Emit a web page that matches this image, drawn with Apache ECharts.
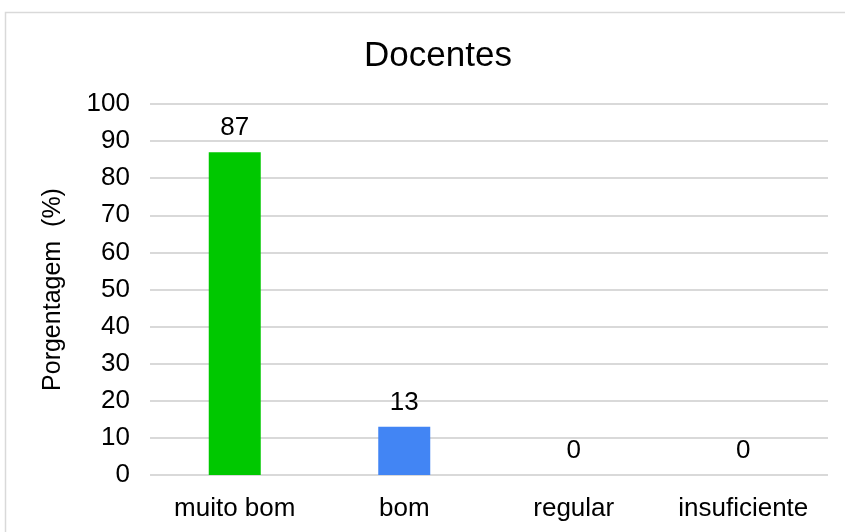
<!DOCTYPE html>
<html>
<head>
<meta charset="utf-8">
<script src="https://cdn.jsdelivr.net/npm/echarts@6/dist/echarts.min.js"></script>
<style>
  html, body { margin: 0; padding: 0; background: #fff; }
  #main { width: 845px; height: 532px; }
</style>
</head>
<body>
<div id="main"></div>
<script>
var categories = ['muito bom', 'bom', 'regular', 'insuficiente'];
var values = [87, 13, 0, 0];
var barColors = ['#00c800', '#4285f4', '#00c800', '#4285f4'];

var chart = echarts.init(document.getElementById('main'));

var option = {
  animation: false,
  textStyle: { fontFamily: 'Liberation Sans, Arial, sans-serif' },
  graphic: [{
    type: 'rect',
    shape: { x: 5.5, y: 12.5, width: 900, height: 600 },
    style: { fill: 'none', stroke: '#d9d9d9', lineWidth: 1.5 },
    silent: true
  }],
  title: {
    text: 'Docentes',
    left: 433,
    textAlign: 'center',
    top: 34,
    textStyle: { fontSize: 35, fontWeight: 'normal', color: '#000' }
  },
  grid: { left: 150, right: 17, top: 104, bottom: 57 },
  xAxis: {
    type: 'category',
    data: categories,
    axisLine: { show: false },
    axisTick: { show: false },
    axisLabel: { fontSize: 26, color: '#000', margin: 21, interval: 0, hideOverlap: false }
  },
  yAxis: {
    type: 'value',
    min: 0,
    max: 100,
    interval: 10,
    name: 'Porgentagem  (%)',
    nameLocation: 'middle',
    nameGap: 84,
    nameTextStyle: { fontSize: 25, color: '#000' },
    axisLine: { show: false },
    axisTick: { show: false },
    axisLabel: { fontSize: 26, color: '#000', margin: 20 },
    splitLine: { lineStyle: { color: '#d9d9d9', width: 2 } }
  },
  series: [{
    type: 'bar',
    data: values.map(function (v, i) {
      return { value: v, itemStyle: { color: barColors[i] } };
    }),
    barWidth: 52,
    label: {
      show: true,
      position: 'top',
      distance: 11,
      fontSize: 26,
      color: '#000'
    }
  }]
};

chart.setOption(option);
</script>
</body>
</html>
